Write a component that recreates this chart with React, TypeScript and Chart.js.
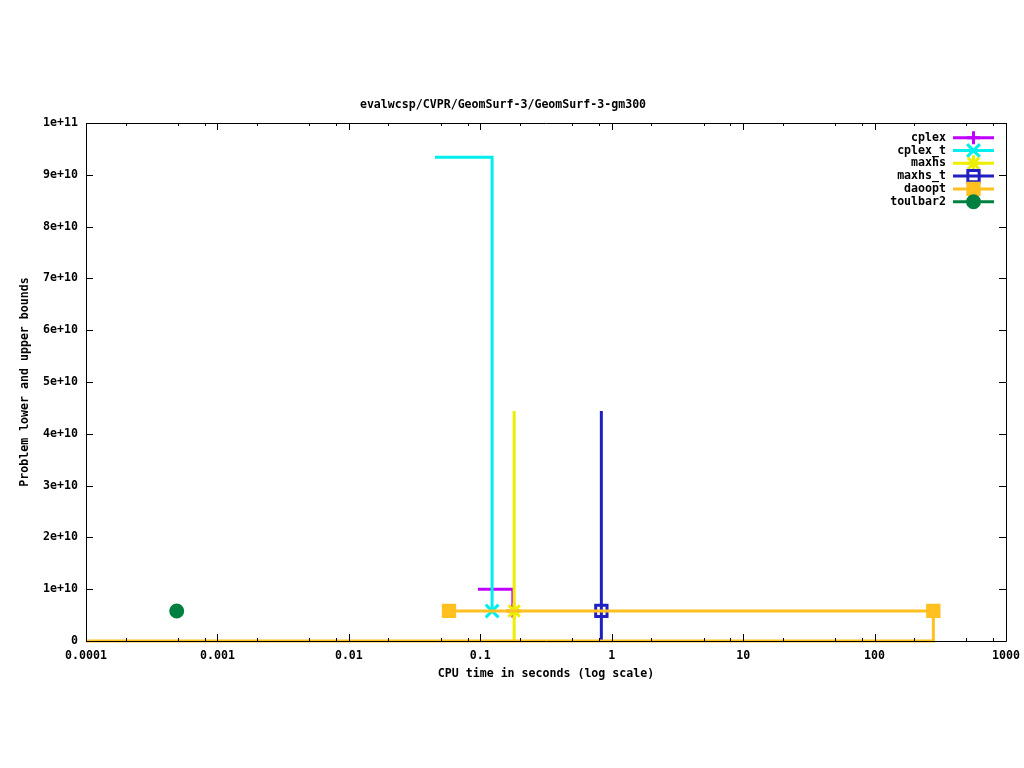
import React, { useEffect, useRef } from "react";
import { Chart, registerables } from "chart.js";
import { drawPoint } from "chart.js/helpers";

Chart.register(...registerables);

const TITLE = "evalwcsp/CVPR/GeomSurf-3/GeomSurf-3-gm300";
const X_LABEL = "CPU time in seconds (log scale)";
const Y_LABEL = "Problem lower and upper bounds";

const X_TICKS = [0.0001, 0.001, 0.01, 0.1, 1, 10, 100, 1000];
const X_TICK_LABELS = ["0.0001", "0.001", "0.01", "0.1", "1", "10", "100", "1000"];
const X_MINOR_MULTS = [2, 5, 8];
const Y_TICKS = [0, 1e10, 2e10, 3e10, 4e10, 5e10, 6e10, 7e10, 8e10, 9e10, 1e11];
const Y_TICK_LABELS = ["0", "1e+10", "2e+10", "3e+10", "4e+10", "5e+10", "6e+10", "7e+10", "8e+10", "9e+10", "1e+11"];

const SERIES_NAMES = ["cplex", "cplex_t", "maxhs", "maxhs_t", "daoopt", "toulbar2"];
const SERIES_COLORS = ["#c000ff", "#00eeee", "#eeee00", "#2020c0", "#ffc020", "#008040"];
const SERIES_MARKERS = ["cross", "crossRot", "star", "rect", "rect", "circle"];
const SERIES_MARKER_FILLED = [false, false, false, false, true, true];
const SERIES_MARKER_RADIUS = [6.5, 9, 8, 8, 8, 6];

// cplex
const cplexTime = [0.096, 0.177, 0.177];
const cplexBound = [1e10, 1e10, 5.8e9];
const cplexMarked = [false, false, true];
// cplex_t
const cplexTTime = [0.0452, 0.123, 0.123];
const cplexTBound = [9.34e10, 9.34e10, 5.8e9];
const cplexTMarked = [false, false, true];
// maxhs
const maxhsTime = [0.181, 0.181, 0.181];
const maxhsBound = [4.44e10, 5.8e9, 0];
const maxhsMarked = [false, true, false];
// maxhs_t
const maxhsTTime = [0.834, 0.834, 0.834];
const maxhsTBound = [4.44e10, 5.8e9, 0];
const maxhsTMarked = [false, true, false];
// daoopt
const daooptTime = [0.0001, 280, 280, 0.0578];
const daooptBound = [0, 0, 5.8e9, 5.8e9];
const daooptMarked = [false, false, true, true];
// toulbar2
const toulbarTime = [0.00049];
const toulbarBound = [5.8e9];
const toulbarMarked = [true];

const SERIES_TIMES = [cplexTime, cplexTTime, maxhsTime, maxhsTTime, daooptTime, toulbarTime];
const SERIES_BOUNDS = [cplexBound, cplexTBound, maxhsBound, maxhsTBound, daooptBound, toulbarBound];
const SERIES_MARKED = [cplexMarked, cplexTMarked, maxhsMarked, maxhsTMarked, daooptMarked, toulbarMarked];

const FONT_FAMILY = "'DejaVu Sans Mono', 'Liberation Mono', monospace";
const FONT = { family: FONT_FAMILY, size: 11.6, weight: "bold" as const, lineHeight: "14px" };

const frameAndTicks = {
  id: "frameAndTicks",
  afterDatasetsDraw(chart: any) {
    const { ctx, chartArea } = chart;
    const { left, right, top, bottom } = chartArea;
    const xs = chart.scales.x;
    const ys = chart.scales.y;
    ctx.save();
    ctx.strokeStyle = "#000";
    ctx.lineWidth = 1;
    ctx.beginPath();
    ctx.rect(Math.round(left) + 0.5, Math.round(top) + 0.5, Math.round(right - left), Math.round(bottom - top));
    const majorLen = 7;
    const minorLen = 3;
    X_TICKS.forEach((v) => {
      const px = Math.round(xs.getPixelForValue(v)) + 0.5;
      ctx.moveTo(px, bottom);
      ctx.lineTo(px, bottom - majorLen);
      ctx.moveTo(px, top);
      ctx.lineTo(px, top + majorLen);
    });
    for (let i = 0; i < X_TICKS.length - 1; i++) {
      X_MINOR_MULTS.forEach((m) => {
        const px = Math.round(xs.getPixelForValue(X_TICKS[i] * m)) + 0.5;
        ctx.moveTo(px, bottom);
        ctx.lineTo(px, bottom - minorLen);
        ctx.moveTo(px, top);
        ctx.lineTo(px, top + minorLen);
      });
    }
    Y_TICKS.forEach((v) => {
      const py = Math.round(ys.getPixelForValue(v)) + 0.5;
      ctx.moveTo(left, py);
      ctx.lineTo(left + majorLen, py);
      ctx.moveTo(right, py);
      ctx.lineTo(right - majorLen, py);
    });
    ctx.stroke();
    ctx.restore();
  },
};

const gnuLegend = {
  id: "gnuLegend",
  afterDatasetsDraw(chart: any) {
    const { ctx, chartArea } = chart;
    const textRight = chartArea.right - 60;
    const lineStart = chartArea.right - 53;
    const lineEnd = chartArea.right - 12;
    const rowTop = chartArea.top + 14.7;
    const rowStep = 12.8;
    ctx.save();
    ctx.font = `bold 11.6px ${FONT_FAMILY}`;
    ctx.textAlign = "right";
    ctx.textBaseline = "middle";
    chart.data.datasets.forEach((ds: any, i: number) => {
      const y = rowTop + rowStep * i;
      ctx.fillStyle = "#000";
      ctx.fillText(ds.label, textRight, y);
      ctx.strokeStyle = ds.borderColor;
      ctx.lineWidth = 3;
      ctx.beginPath();
      ctx.moveTo(lineStart, y);
      ctx.lineTo(lineEnd, y);
      ctx.stroke();
      ctx.fillStyle = ds.pointBackgroundColor;
      ctx.strokeStyle = ds.pointBorderColor;
      ctx.lineWidth = ds.pointBorderWidth;
      drawPoint(
        ctx,
        { pointStyle: ds.pointStyle, rotation: 0, radius: SERIES_MARKER_RADIUS[i], borderWidth: ds.pointBorderWidth },
        (lineStart + lineEnd) / 2,
        y
      );
    });
    ctx.restore();
  },
};

export default function App() {
  const canvasRef = useRef<HTMLCanvasElement | null>(null);

  useEffect(() => {
    if (!canvasRef.current) return;
    const datasets = SERIES_NAMES.map((name, i) => ({
      label: name,
      data: SERIES_TIMES[i].map((t, j) => ({ x: t, y: SERIES_BOUNDS[i][j] })),
      showLine: true,
      borderColor: SERIES_COLORS[i],
      backgroundColor: SERIES_COLORS[i],
      borderWidth: 3,
      pointStyle: SERIES_MARKERS[i],
      pointRadius: SERIES_MARKED[i].map((m) => (m ? SERIES_MARKER_RADIUS[i] : 0)),
      pointHoverRadius: 0,
      pointBorderWidth: 3,
      pointBorderColor: SERIES_COLORS[i],
      pointBackgroundColor: SERIES_MARKER_FILLED[i] ? SERIES_COLORS[i] : "rgba(0,0,0,0)",
      tension: 0,
      clip: false as const,
      order: SERIES_NAMES.length - 1 - i,
    }));

    const chart = new Chart(canvasRef.current, {
      type: "scatter",
      data: { datasets },
      options: {
        animation: false,
        responsive: false,
        layout: { padding: { left: 0, right: 18, top: 0, bottom: 0 } },
        plugins: {
          legend: { display: false },
          tooltip: { enabled: false },
          title: {
            display: true,
            text: TITLE,
            color: "#000",
            font: FONT,
            padding: { top: 98, bottom: 11 },
          },
        },
        scales: {
          x: {
            type: "logarithmic",
            min: 0.0001,
            max: 1000,
            grid: { display: false, drawTicks: false, tickLength: 0 },
            border: { display: false },
            afterBuildTicks: (scale: any) => {
              scale.ticks = X_TICKS.map((v) => ({ value: v, major: true }));
            },
            afterFit: (scale: any) => {
              scale.height = 127;
              scale.paddingLeft = 0;
              scale.paddingRight = 0;
            },
            ticks: {
              autoSkip: false,
              maxRotation: 0,
              minRotation: 0,
              padding: 8,
              color: "#000",
              font: FONT,
              callback: (value: any) => {
                const idx = X_TICKS.findIndex((t) => Math.abs(t - Number(value)) / t < 1e-6);
                return idx >= 0 ? X_TICK_LABELS[idx] : "";
              },
            },
            title: {
              display: true,
              text: X_LABEL,
              color: "#000",
              font: FONT,
              padding: { top: 0, bottom: 87 },
            },
          },
          y: {
            type: "linear",
            min: 0,
            max: 1e11,
            grid: { display: false, drawTicks: false, tickLength: 0 },
            border: { display: false },
            afterBuildTicks: (scale: any) => {
              scale.ticks = Y_TICKS.map((v) => ({ value: v }));
            },
            afterFit: (scale: any) => {
              scale.width = 86;
              scale.paddingTop = 0;
              scale.paddingBottom = 0;
            },
            ticks: {
              autoSkip: false,
              padding: 8,
              color: "#000",
              font: FONT,
              callback: (value: any) => {
                const idx = Y_TICKS.findIndex((t) => Math.abs(t - Number(value)) < 1);
                return idx >= 0 ? Y_TICK_LABELS[idx] : "";
              },
            },
            title: {
              display: true,
              text: Y_LABEL,
              color: "#000",
              font: FONT,
              padding: { top: 18, bottom: 0 },
            },
          },
        },
      },
      plugins: [frameAndTicks, gnuLegend],
    } as any);

    return () => {
      chart.destroy();
    };
  }, []);

  return (
    <div style={{ position: "absolute", left: 0, top: 0, width: 1024, height: 768, background: "#fff" }}>
      <canvas ref={canvasRef} width={1024} height={768} style={{ display: "block" }} />
    </div>
  );
}
